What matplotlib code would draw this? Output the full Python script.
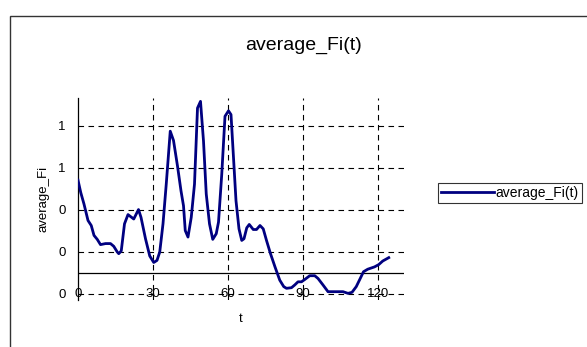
import matplotlib
matplotlib.use('Agg')
import matplotlib.pyplot as plt
from matplotlib.patches import Rectangle

plt.rcParams['font.family'] = ['Liberation Sans', 'DejaVu Sans']

# average_Fi(t) values
t = [0, 1.1, 2.4, 4, 5.3, 6.4, 7.7, 9, 11, 13, 14.3, 15.7, 16.3, 17.3, 18.6, 20,
     22.3, 24.2, 25.2, 27, 28.7, 30.3, 31.6, 32.7, 34, 35.3, 36.9, 38.2, 39.8,
     41.2, 42.2, 42.9, 44, 45.3, 46.6, 47.8, 49, 50.2, 51.3, 52.6, 53.9, 55.3,
     56.2, 57.5, 58.8, 60.2, 61.2, 62.2, 63.2, 64.4, 65.5, 66.4, 67.5, 68.5,
     70.1, 71.4, 72.8, 74.1, 75.4, 77, 78.8, 80.7, 82.3, 83.4, 85.4, 86.7, 88,
     89.4, 90.7, 92.7, 94.7, 96, 98, 100, 101.3, 103.3, 106, 108, 109.6, 111.3,
     112.9, 114.2, 115.9, 118.6, 120.3, 121.9, 124.3]
fi = [0.542, 0.483, 0.428, 0.35, 0.326, 0.279, 0.26, 0.235, 0.24, 0.24, 0.227,
      0.2, 0.192, 0.205, 0.334, 0.378, 0.357, 0.402, 0.365, 0.263, 0.181, 0.15,
      0.16, 0.2, 0.334, 0.523, 0.775, 0.731, 0.609, 0.491, 0.42, 0.302, 0.271,
      0.365, 0.523, 0.885, 0.917, 0.728, 0.476, 0.334, 0.26, 0.287, 0.342, 0.57,
      0.846, 0.872, 0.854, 0.649, 0.444, 0.31, 0.255, 0.263, 0.315, 0.331, 0.307,
      0.307, 0.326, 0.31, 0.255, 0.192, 0.129, 0.066, 0.035, 0.027, 0.03, 0.043,
      0.058, 0.058, 0.069, 0.087, 0.087, 0.074, 0.043, 0.011, 0.011, 0.011, 0.011,
      0.003, 0.008, 0.035, 0.074, 0.106, 0.118, 0.129, 0.14, 0.157, 0.173]

x_ticks = [0, 30, 60, 90, 120]
y_ticks = [0.0, 0.2, 0.4, 0.6, 0.8]
y_labels = ['0', '0', '0', '1', '1']

W, H = 587, 347
fig = plt.figure(figsize=(W / 100, H / 100), dpi=100)

# chart area border (only top/left visible in reference)
fig.patches.append(Rectangle((10 / W, -0.1), 1.2, 1 - 16 / H + 0.1,
                             transform=fig.transFigure, fill=False,
                             edgecolor='#333333', linewidth=1.0))

ax = fig.add_axes([78 / W, (H - 300) / H, (404 - 78) / W, (300 - 98) / H])
ax.plot(t, fi, color='#000080', linewidth=2.0, label='average_Fi(t)', zorder=3)

ax.set_xlim(0, 130.4)
ax.set_ylim(-0.0286, 0.933)
ax.set_xticks(x_ticks)
ax.set_yticks(y_ticks)
ax.set_yticklabels(y_labels)

dash = (0, (5, 4))
for yv in y_ticks:
    ax.axhline(yv, color='black', linewidth=0.8, linestyle=dash, zorder=1)
for xv in x_ticks[1:]:
    ax.axvline(xv, color='black', linewidth=0.8, linestyle=dash, zorder=1)
ax.axhline(0.1, color='black', linewidth=0.9, zorder=2)

for s in ['top', 'right', 'bottom']:
    ax.spines[s].set_visible(False)
ax.spines['left'].set_linewidth(0.9)

ax.tick_params(axis='x', length=0, pad=-8.5, labelsize=9.5)
ax.tick_params(axis='y', length=0, pad=9, labelsize=9.5)

ax.set_xlabel('t', fontsize=9.5, labelpad=9)
ax.set_ylabel('average_Fi', fontsize=9.5, labelpad=6)
fig.text(303 / W, 1 - 45 / H, 'average_Fi(t)', fontsize=14, ha='center', va='center')

fig.legend(loc='upper left', bbox_to_anchor=(438 / W, 1 - 183 / H),
           fontsize=10, frameon=True, fancybox=False, edgecolor='black',
           handlelength=3.8, handletextpad=0.15, borderpad=0.2,
           borderaxespad=0).get_frame().set_linewidth(0.8)

fig.savefig('out.png', dpi=100)
